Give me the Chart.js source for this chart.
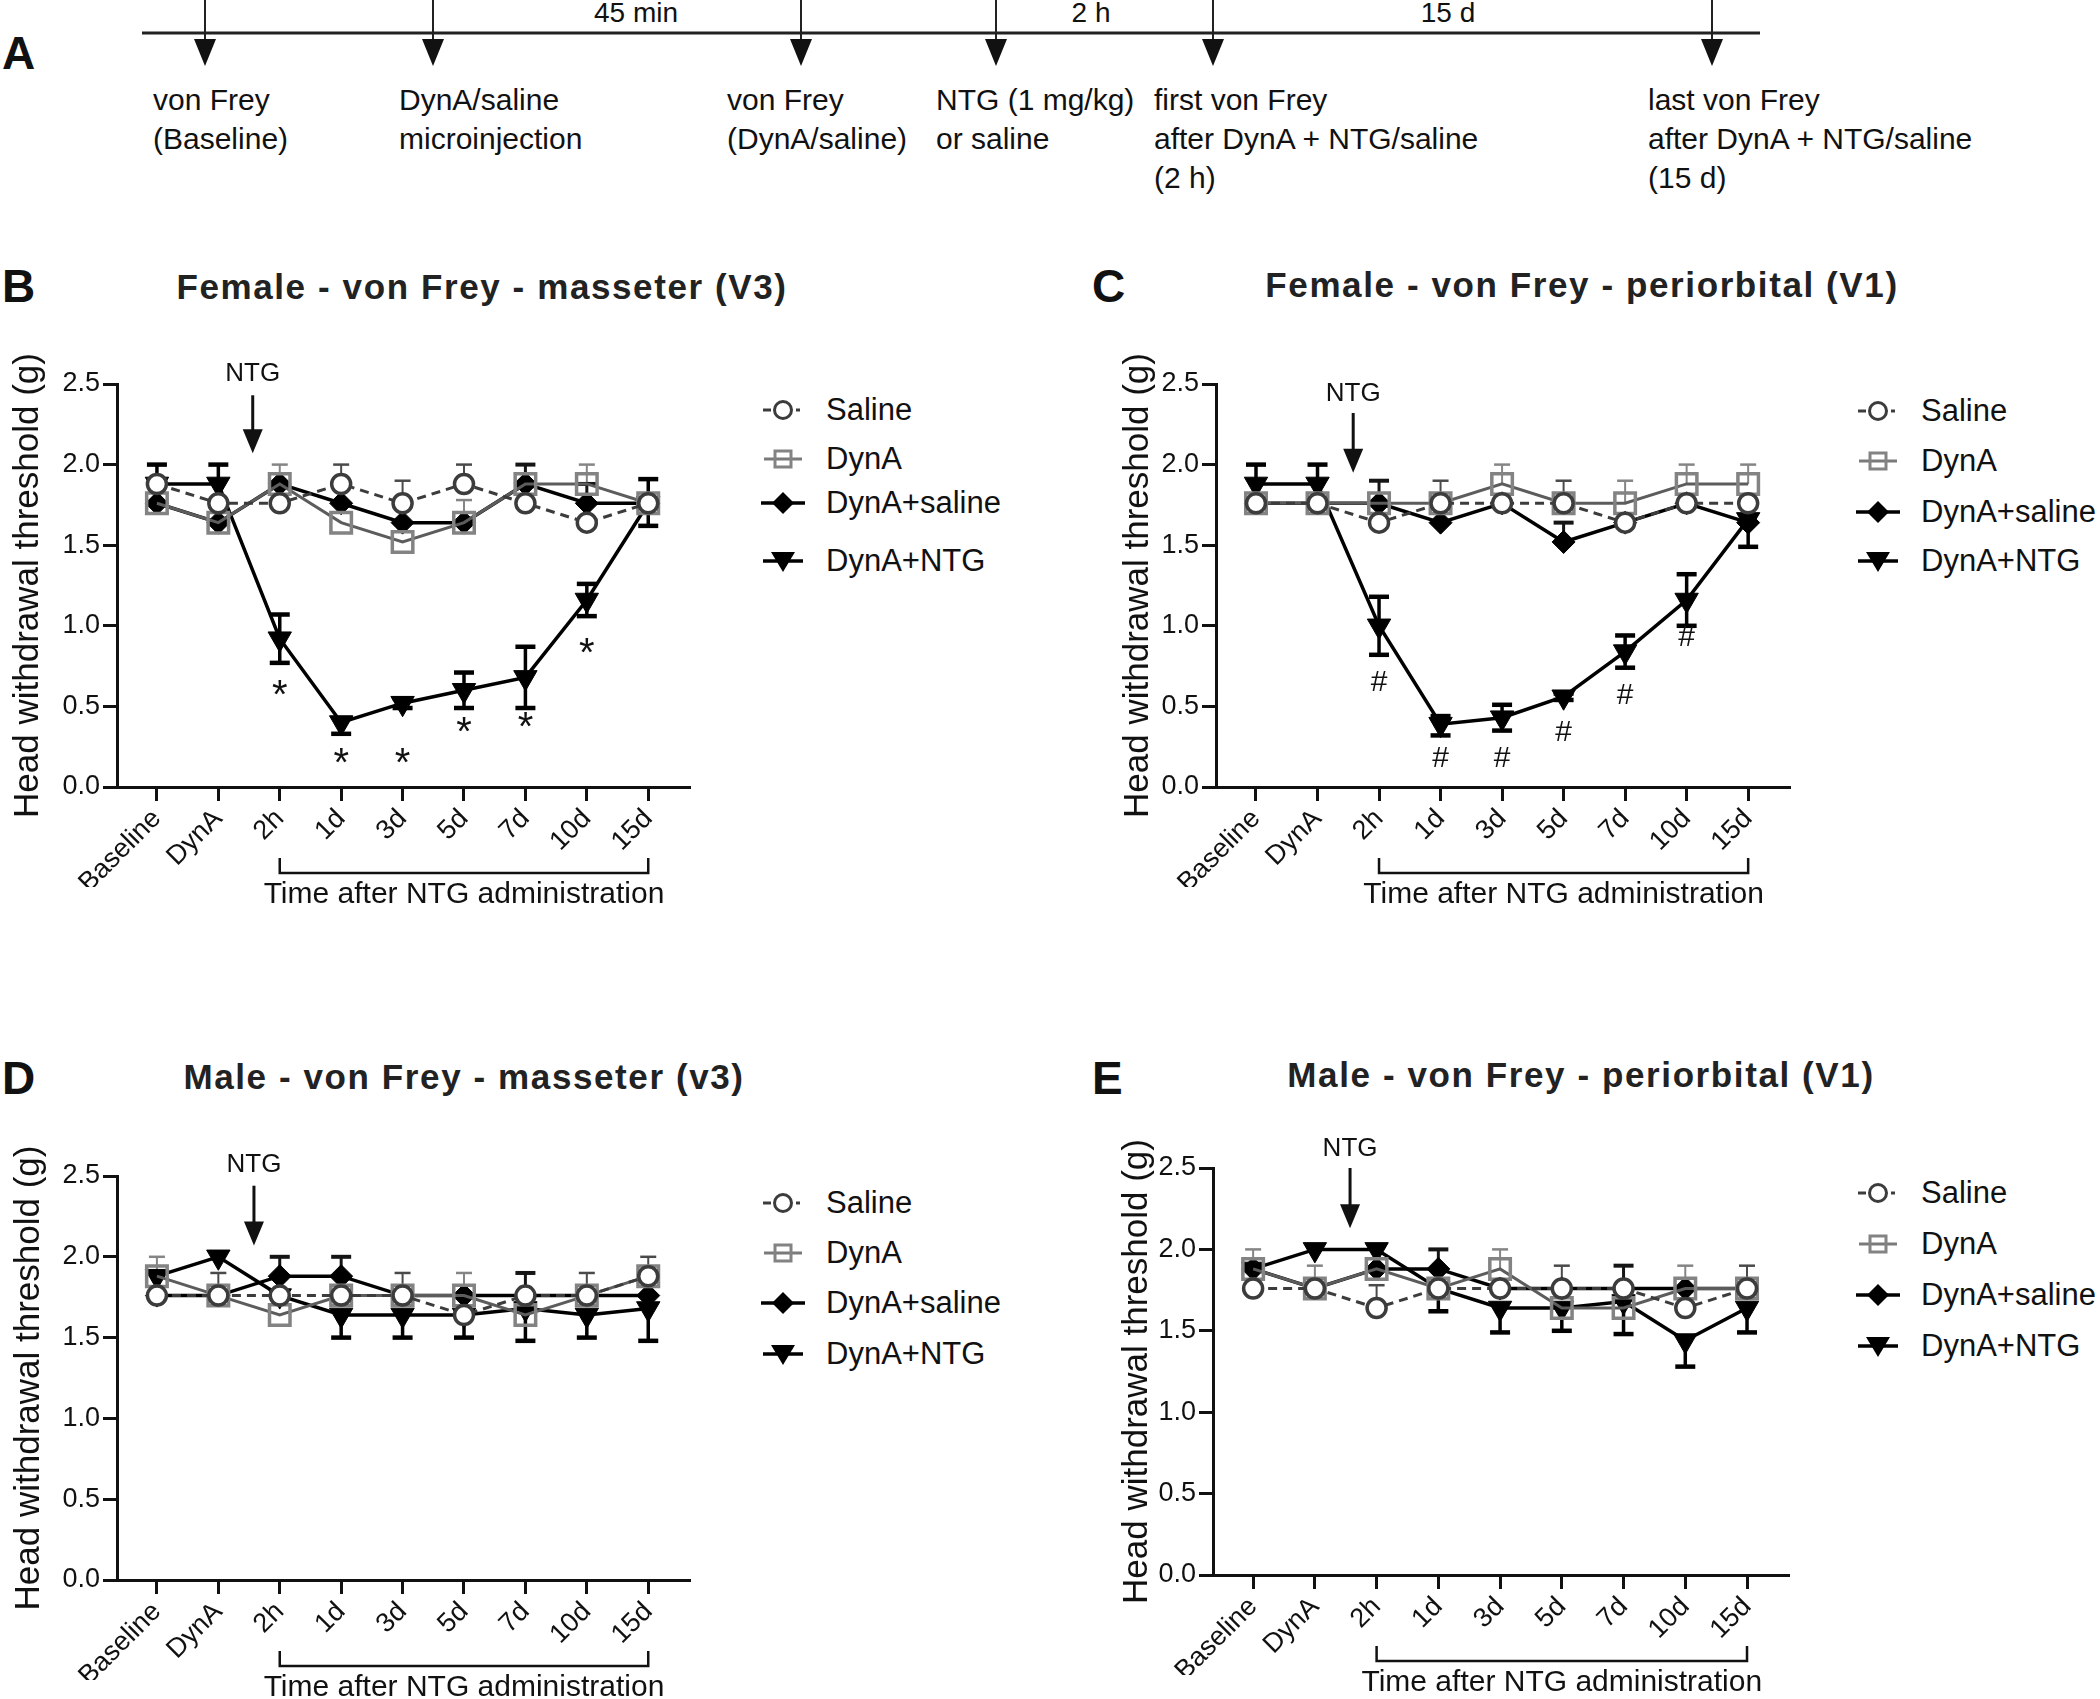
<!DOCTYPE html>
<html><head><meta charset="utf-8">
<script src="https://cdn.jsdelivr.net/npm/chart.js@4.4.1/dist/chart.umd.min.js"></script>
<style>
html,body{margin:0;padding:0;background:#fff;width:2100px;height:1699px;overflow:hidden;font-family:'Liberation Sans',Arial,sans-serif;color:#111}
.abs{position:absolute;white-space:nowrap}
canvas{position:absolute}
.letter{position:absolute;font-weight:bold;font-size:46px;line-height:46px;color:#111}
.title{position:absolute;white-space:nowrap;font-weight:bold;font-size:35px;letter-spacing:1.6px;color:#222;transform:translate(-50%,-50%)}
.tl{position:absolute;white-space:nowrap;font-size:30px;line-height:39px}
.iv{position:absolute;white-space:nowrap;font-size:28px;transform:translate(-50%,-50%)}
.leg{position:absolute;display:flex;align-items:center;height:40px;font-size:31px;white-space:nowrap}
.leg svg{margin-right:20px}
</style></head><body>

<!-- Panel A -->
<div class="letter" style="left:2px;top:30px">A</div>
<svg class="abs" style="left:0;top:0" width="2100" height="80">
  <line x1="142" y1="33" x2="1760" y2="33" stroke="#222" stroke-width="3"/>
  <g id="arrowsA"></g>
</svg>
<div class="iv" style="left:636px;top:13px">45 min</div>
<div class="iv" style="left:1091px;top:13px">2 h</div>
<div class="iv" style="left:1448px;top:13px">15 d</div>
<div id="labelsA"></div>

<!-- Panel letters & titles -->
<div class="letter" style="left:2px;top:263px">B</div>
<div class="letter" style="left:1092px;top:263px">C</div>
<div class="letter" style="left:2px;top:1055px">D</div>
<div class="letter" style="left:1092px;top:1055px">E</div>
<div class="title" style="left:482px;top:287px">Female - von Frey - masseter (V3)</div>
<div class="title" style="left:1582px;top:285px">Female - von Frey - periorbital (V1)</div>
<div class="title" style="left:464px;top:1077px">Male - von Frey - masseter (v3)</div>
<div class="title" style="left:1581px;top:1075px">Male - von Frey - periorbital (V1)</div>

<canvas id="cB" width="740" height="600" style="left:0;top:330px"></canvas>
<canvas id="cC" width="740" height="600" style="left:1099px;top:330px"></canvas>
<canvas id="cD" width="740" height="577" style="left:0;top:1122px"></canvas>
<canvas id="cE" width="740" height="585" style="left:1096px;top:1114px"></canvas>
<div id="legends"></div>

<script>
// ---------- DATA ----------
const categories = ['Baseline','DynA','2h','1d','3d','5d','7d','10d','15d'];
const seriesLabels = ['Saline','DynA','DynA+saline','DynA+NTG'];
const yTickValues = [0, 0.5, 1.0, 1.5, 2.0, 2.5];

// Timeline (panel A)
const timelineEvents = [
  ['von Frey','(Baseline)'],
  ['DynA/saline','microinjection'],
  ['von Frey','(DynA/saline)'],
  ['NTG (1 mg/kg)','or saline'],
  ['first von Frey','after DynA + NTG/saline','(2 h)'],
  ['last von Frey','after DynA + NTG/saline','(15 d)']
];

// B: Female - masseter (V3)
const bSaline     = [1.88,1.76,1.76,1.88,1.76,1.88,1.76,1.64,1.76];
const bDynA       = [1.76,1.64,1.88,1.64,1.52,1.64,1.88,1.88,1.76];
const bDynASaline = [1.76,1.64,1.88,1.76,1.64,1.64,1.88,1.76,1.76];
const bDynANTG    = [1.88,1.88,0.92,0.40,0.52,0.60,0.68,1.16,1.76];
const bSalineUp     = [0,0,0,0.12,0.14,0.12,0,0,0];
const bDynAUp       = [0,0,0.12,0,0,0.14,0,0.12,0];
const bDynASalineUp = [0,0,0,0,0,0,0.12,0.12,0];
const bNTGUp        = [0.12,0.12,0.15,0,0.03,0.11,0.19,0.10,0.15];
const bNTGDown      = [0,0,0.15,0.07,0.03,0.11,0.19,0.10,0.14];
const bMarkY        = [null,null,0.63,0.21,0.21,0.40,0.43,0.89,null]; // '*'

// C: Female - periorbital (V1)
const cSaline     = [1.76,1.76,1.64,1.76,1.76,1.76,1.64,1.76,1.76];
const cDynA       = [1.76,1.76,1.76,1.76,1.88,1.76,1.76,1.88,1.88];
const cDynASaline = [1.76,1.76,1.76,1.64,1.76,1.52,1.64,1.76,1.64];
const cDynANTG    = [1.88,1.88,1.00,0.39,0.43,0.56,0.84,1.16,1.66];
const cSalineUp     = [0,0,0,0.14,0,0.14,0,0,0];
const cDynAUp       = [0,0,0.14,0,0.12,0,0.14,0.12,0.12];
const cDynASalineUp = [0,0,0.14,0,0,0.12,0,0,0];
const cNTGUp        = [0.12,0.12,0.18,0.05,0.08,0.02,0.10,0.16,0];
const cNTGDown      = [0,0,0.18,0.07,0.08,0.02,0.10,0.16,0.17];
const cMarkY        = [null,null,0.66,0.19,0.19,0.35,0.58,0.94,null]; // '#'

// D: Male - masseter (v3)
const dSaline     = [1.76,1.76,1.76,1.76,1.76,1.64,1.76,1.76,1.88];
const dDynA       = [1.88,1.76,1.64,1.76,1.76,1.76,1.64,1.76,1.88];
const dDynASaline = [1.76,1.76,1.88,1.88,1.76,1.76,1.76,1.76,1.76];
const dDynANTG    = [1.88,2.00,1.76,1.64,1.64,1.64,1.68,1.64,1.68];
const dSalineUp     = [0,0.14,0,0,0.14,0,0,0.14,0.12];
const dDynAUp       = [0.12,0,0,0,0,0.14,0,0,0];
const dDynASalineUp = [0,0,0.12,0.12,0,0,0.14,0,0];
const dNTGUp        = [0,0,0,0,0,0,0,0,0];
const dNTGDown      = [0,0,0,0.14,0.14,0.14,0.20,0.14,0.20];

// E: Male - periorbital (V1)
const eSaline     = [1.76,1.76,1.64,1.76,1.76,1.76,1.76,1.64,1.76];
const eDynA       = [1.88,1.76,1.88,1.76,1.88,1.64,1.64,1.76,1.76];
const eDynASaline = [1.88,1.76,1.88,1.88,1.76,1.76,1.76,1.76,1.76];
const eDynANTG    = [1.88,2.00,2.00,1.76,1.64,1.64,1.68,1.44,1.64];
const eSalineUp     = [0,0,0.14,0,0,0.14,0,0,0.14];
const eDynAUp       = [0.12,0.14,0,0,0.12,0,0,0.14,0];
const eDynASalineUp = [0,0,0,0.12,0,0,0.14,0,0];
const eNTGUp        = [0,0,0,0,0,0,0,0,0];
const eNTGDown      = [0,0,0,0.14,0.15,0.14,0.20,0.16,0.15];

// NTG arrow: [x category position, label y, arrow top y, arrow tip y] in data units
const bArrow = [1.56, 2.56, 2.43, 2.07];
const cArrow = [1.58, 2.44, 2.32, 1.95];
const dArrow = [1.58, 2.57, 2.44, 2.07];
const eArrow = [1.57, 2.62, 2.50, 2.13];

// ---------- PANEL A ----------
(function(){
  const ax = [205, 433, 801, 996, 1213, 1712];
  const lx = [153, 399, 727, 936, 1154, 1648];
  const g = document.getElementById('arrowsA');
  let s = '';
  ax.forEach(x => {
    s += `<line x1="${x}" y1="0" x2="${x}" y2="42" stroke="#222" stroke-width="2"/>`;
    s += `<polygon points="${x-11},39 ${x+11},39 ${x},66" fill="#111"/>`;
  });
  g.innerHTML = s;
  const L = document.getElementById('labelsA');
  timelineEvents.forEach((lines, i) => {
    const d = document.createElement('div');
    d.className = 'tl';
    d.style.left = lx[i] + 'px';
    d.style.top = '80px';
    d.innerHTML = lines.join('<br>');
    L.appendChild(d);
  });
})();

// ---------- STYLES ----------
const FONT = "'Liberation Sans', Arial, sans-serif";
const lineColors = ['#3c3c3c', '#5c5c5c', '#000', '#000'];
const errStyles = [
  {color:'#4a4a4a', width:2, cap:8, capW:2.5},
  {color:'#858585', width:2, cap:8, capW:2.5},
  {color:'#151515', width:3, cap:10, capW:4},
  {color:'#000', width:3.5, cap:10, capW:4.5}
];

function makeDatasets(vals) {
  return [
    { label: seriesLabels[0], data: vals[0].map((v,i)=>({x:i,y:v})),
      borderColor: lineColors[0], borderWidth: 3, borderDash: [9,6],
      pointStyle: 'circle', pointRadius: 9.5, pointBorderWidth: 3.5,
      pointBackgroundColor: '#fff', pointBorderColor: '#3c3c3c' },
    { label: seriesLabels[1], data: vals[1].map((v,i)=>({x:i,y:v})),
      borderColor: lineColors[1], borderWidth: 3,
      pointStyle: 'rect', pointRadius: 14.5, pointBorderWidth: 3.5,
      pointBackgroundColor: 'rgba(0,0,0,0)', pointBorderColor: '#838383' },
    { label: seriesLabels[2], data: vals[2].map((v,i)=>({x:i,y:v})),
      borderColor: lineColors[2], borderWidth: 3.5,
      pointStyle: 'rectRot', pointRadius: 11.5, pointBorderWidth: 1,
      pointBackgroundColor: '#000', pointBorderColor: '#000' },
    { label: seriesLabels[3], data: vals[3].map((v,i)=>({x:i,y:v})),
      borderColor: lineColors[3], borderWidth: 3.5,
      pointStyle: 'triangle', pointRotation: 180, pointRadius: 13.5, pointBorderWidth: 1,
      pointBackgroundColor: '#000', pointBorderColor: '#000' }
  ];
}

function makePanel(id, vals, ups, downs, arrow, markY, markSym, yTitleOff, pad) {
  const extras = {
    id: 'extras_' + id,
    beforeDatasetsDraw(chart) {
      const {ctx, scales:{x, y}} = chart;
      vals.forEach((arr, si) => {
        const st = errStyles[si];
        ctx.save();
        ctx.strokeStyle = st.color;
        arr.forEach((v, i) => {
          const px = x.getPixelForValue(i), py = y.getPixelForValue(v);
          [[ups[si], 1], [downs[si], -1]].forEach(([e, sg]) => {
            const d = e ? e[i] : 0;
            if (!d) return;
            const ey = y.getPixelForValue(v + sg * d);
            ctx.lineWidth = st.width;
            ctx.beginPath(); ctx.moveTo(px, py); ctx.lineTo(px, ey); ctx.stroke();
            ctx.lineWidth = st.capW;
            ctx.beginPath(); ctx.moveTo(px - st.cap, ey); ctx.lineTo(px + st.cap, ey); ctx.stroke();
          });
        });
        ctx.restore();
      });
    },
    afterDraw(chart) {
      const {ctx, scales:{x, y}, chartArea} = chart;
      ctx.save();
      ctx.fillStyle = '#111'; ctx.strokeStyle = '#111';
      // NTG arrow
      const axp = x.getPixelForValue(arrow[0]);
      ctx.font = '26px ' + FONT;
      ctx.textAlign = 'center'; ctx.textBaseline = 'middle';
      ctx.fillText('NTG', axp, y.getPixelForValue(arrow[1]));
      const top = y.getPixelForValue(arrow[2]), tip = y.getPixelForValue(arrow[3]);
      ctx.lineWidth = 3;
      ctx.beginPath(); ctx.moveTo(axp, top); ctx.lineTo(axp, tip - 20); ctx.stroke();
      ctx.beginPath(); ctx.moveTo(axp - 10, tip - 24); ctx.lineTo(axp + 10, tip - 24); ctx.lineTo(axp, tip); ctx.closePath(); ctx.fill();
      // significance marks
      if (markY) {
        const fs = markSym === '*' ? 40 : 30;
        ctx.font = fs + 'px ' + FONT;
        ctx.textBaseline = 'alphabetic';
        const off = markSym === '*' ? 0.57 * fs : 0.35 * fs;
        markY.forEach((m, i) => {
          if (m === null) return;
          ctx.fillText(markSym, x.getPixelForValue(i), y.getPixelForValue(m) + off);
        });
      }
      // bracket
      const b1 = x.getPixelForValue(2), b2 = x.getPixelForValue(8);
      const by = chartArea.bottom + 86;
      ctx.lineWidth = 2.5;
      ctx.beginPath(); ctx.moveTo(b1, by - 15); ctx.lineTo(b1, by); ctx.lineTo(b2, by); ctx.lineTo(b2, by - 15); ctx.stroke();
      ctx.font = '30px ' + FONT; ctx.textBaseline = 'middle';
      ctx.fillText('Time after NTG administration', (b1 + b2) / 2, chartArea.bottom + 108);
      // y title
      ctx.save();
      ctx.translate(chartArea.left - yTitleOff, (chartArea.top + chartArea.bottom) / 2);
      ctx.rotate(-Math.PI / 2);
      ctx.font = '35px ' + FONT;
      ctx.fillText('Head withdrawal threshold (g)', 0, 0);
      ctx.restore();
      ctx.restore();
    }
  };
  return new Chart(document.getElementById(id), {
    type: 'line',
    data: { datasets: makeDatasets(vals) },
    plugins: [extras],
    options: {
      responsive: false, animation: false, devicePixelRatio: 1,
      layout: { autoPadding: false, padding: pad },
      plugins: { legend: { display: false }, tooltip: { enabled: false } },
      elements: { line: { tension: 0 } },
      scales: {
        x: {
          type: 'linear', min: -0.65, max: 8.68,
          afterBuildTicks: s => { s.ticks = categories.map((c, i) => ({ value: i })); },
          afterFit: s => { s.height = 100; },
          ticks: { autoSkip: false, minRotation: 45, maxRotation: 45, padding: 2,
                   color: '#111', font: { size: 27, family: FONT },
                   callback: (v) => categories[Math.round(v)] },
          grid: { display: true, drawOnChartArea: false, drawTicks: true, tickLength: 14,
                  tickWidth: 3, tickColor: '#111' },
          border: { display: true, color: '#111', width: 3 }
        },
        y: {
          min: 0, max: 2.5,
          afterBuildTicks: s => { s.ticks = yTickValues.map(v => ({ value: v })); },
          afterFit: s => { s.width = 117; },
          ticks: { padding: 3, color: '#111', font: { size: 27, family: FONT },
                   callback: v => Number(v).toFixed(1) },
          grid: { display: true, drawOnChartArea: false, drawTicks: true, tickLength: 14,
                  tickWidth: 3, tickColor: '#111' },
          border: { display: true, color: '#111', width: 3 }
        }
      }
    }
  });
}

makePanel('cB', [bSaline,bDynA,bDynASaline,bDynANTG],
  [bSalineUp,bDynAUp,bDynASalineUp,bNTGUp], [null,null,null,bNTGDown],
  bArrow, bMarkY, '*', 89, {left:0, top:54, right:50, bottom:43});
makePanel('cC', [cSaline,cDynA,cDynASaline,cDynANTG],
  [cSalineUp,cDynAUp,cDynASalineUp,cNTGUp], [null,null,null,cNTGDown],
  cArrow, cMarkY, '#', 78, {left:0, top:54, right:49, bottom:43});
makePanel('cD', [dSaline,dDynA,dDynASaline,dDynANTG],
  [dSalineUp,dDynAUp,dDynASalineUp,dNTGUp], [null,null,null,dNTGDown],
  dArrow, null, '', 88, {left:0, top:54, right:50, bottom:19});
makePanel('cE', [eSaline,eDynA,eDynASaline,eDynANTG],
  [eSalineUp,eDynAUp,eDynASalineUp,eNTGUp], [null,null,null,eNTGDown],
  eArrow, null, '', 76, {left:0, top:54, right:47, bottom:24});

// ---------- LEGENDS ----------
const legendMarkers = [
  `<svg width="46" height="30"><line x1="3" y1="15" x2="11" y2="15" stroke="#3c3c3c" stroke-width="3"/><circle cx="23" cy="15" r="8.5" fill="#fff" stroke="#3c3c3c" stroke-width="3"/><line x1="36" y1="15" x2="40" y2="15" stroke="#3c3c3c" stroke-width="3"/></svg>`,
  `<svg width="46" height="30"><line x1="4" y1="15" x2="42" y2="15" stroke="#7a7a7a" stroke-width="3"/><rect x="15" y="7" width="16" height="16" fill="none" stroke="#838383" stroke-width="3"/></svg>`,
  `<svg width="46" height="30"><line x1="1" y1="15" x2="45" y2="15" stroke="#000" stroke-width="3.5"/><polygon points="23,4 34,15 23,26 12,15" fill="#000"/></svg>`,
  `<svg width="46" height="30"><line x1="3" y1="15" x2="43" y2="15" stroke="#000" stroke-width="3.5"/><polygon points="11,6 35,6 23,26" fill="#000"/></svg>`
];
const legendPos = [
  [760, [410, 459, 503, 561]],
  [1855, [411, 461, 512, 561]],
  [760, [1203, 1253, 1303, 1354]],
  [1855, [1193, 1244, 1295, 1346]]
];
const LG = document.getElementById('legends');
legendPos.forEach(([lx, ys]) => {
  seriesLabels.forEach((lab, i) => {
    const d = document.createElement('div');
    d.className = 'leg';
    d.style.left = lx + 'px';
    d.style.top = (ys[i] - 20) + 'px';
    d.innerHTML = legendMarkers[i] + '<span>' + lab + '</span>';
    LG.appendChild(d);
  });
});
</script>
</body></html>
